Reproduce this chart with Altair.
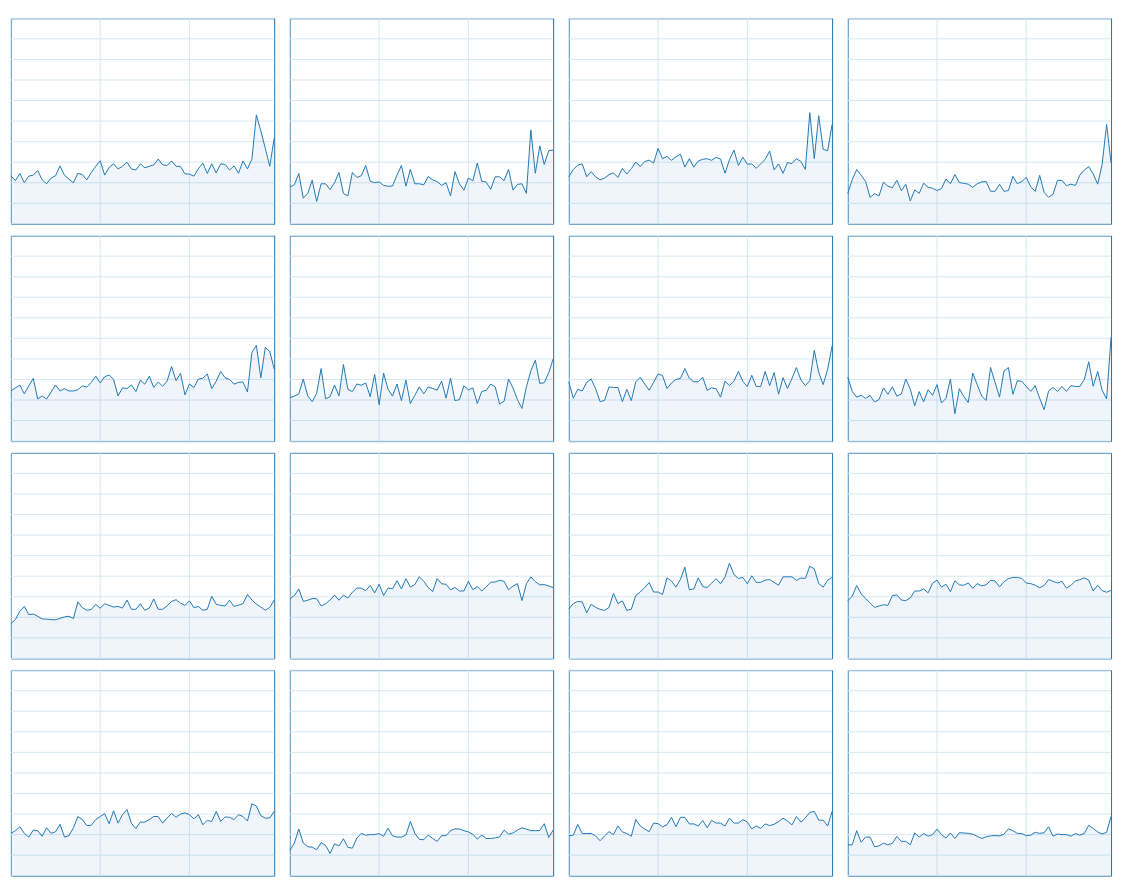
import altair as alt
import pandas as pd

p1 = [2.34,2.10,2.45,2.00,2.32,2.37,2.59,2.14,1.95,2.23,
      2.34,2.82,2.36,2.18,2.00,2.46,2.40,2.14,2.50,2.80,
      3.07,2.37,2.75,2.92,2.67,2.80,3.00,2.67,2.62,2.92,
      2.73,2.80,2.87,3.15,2.87,2.84,3.06,2.80,2.79,2.43,
      2.42,2.32,2.68,2.95,2.45,2.92,2.48,2.92,2.89,2.62,
      2.82,2.46,3.06,2.67,3.15,5.30,4.52,3.67,2.80,4.18]
p2 = [1.79,1.90,2.45,1.25,1.48,2.12,1.09,1.95,1.95,1.67,
      2.00,2.50,1.48,1.36,2.50,2.26,2.34,2.84,2.07,2.00,
      2.04,1.87,1.83,1.84,2.37,2.84,1.83,2.65,1.95,1.95,
      1.90,2.31,2.14,2.06,1.87,2.00,1.36,2.54,1.95,1.64,
      2.23,2.10,2.96,2.07,2.03,1.68,2.29,2.29,2.10,2.65,
      1.64,1.92,1.95,1.48,4.57,2.46,3.79,2.89,3.56,3.59]
p3 = [2.29,2.65,2.85,2.92,2.29,2.54,2.29,2.14,2.23,2.39,
      2.48,2.26,2.70,2.42,2.68,3.01,2.79,3.03,3.10,2.96,
      3.67,3.17,3.28,3.09,3.26,3.39,2.76,3.17,2.76,3.06,
      3.14,3.17,3.09,3.24,3.15,2.46,3.12,3.59,2.84,3.24,
      2.90,2.92,2.70,2.92,3.14,3.54,2.62,2.92,2.46,2.98,
      2.93,3.17,3.04,2.65,5.41,3.17,5.26,3.62,3.56,4.84]
p4 = [1.48,2.15,2.64,2.37,2.06,1.29,1.47,1.36,2.03,1.83,
      1.76,2.12,1.61,1.93,1.11,1.65,1.48,1.98,1.78,1.73,
      1.62,1.72,2.18,1.95,2.40,2.01,1.97,1.93,1.78,1.95,
      2.04,2.06,1.59,1.58,1.93,1.58,1.62,2.31,1.95,2.06,
      2.26,1.81,1.58,2.36,1.53,1.29,1.44,2.12,2.11,1.86,
      1.93,1.87,2.37,2.62,2.78,2.43,1.93,2.89,4.84,2.96]
p5 = [2.45,2.59,2.73,2.30,2.69,3.05,2.05,2.20,2.05,2.39,
      2.73,2.44,2.55,2.44,2.44,2.50,2.69,2.63,2.86,3.16,
      2.83,3.13,3.22,3.00,2.20,2.59,2.56,2.73,2.41,2.97,
      2.77,3.16,2.61,2.88,2.67,2.92,3.63,2.94,3.30,2.25,
      2.78,2.61,3.02,3.06,3.27,2.56,2.92,3.39,3.08,3.00,
      2.77,2.86,2.88,2.39,4.31,4.66,3.08,4.56,4.36,3.50]
p6 = [2.11,2.19,2.30,3.02,2.20,1.92,2.33,3.53,2.06,2.16,
      2.73,2.20,3.73,2.52,2.41,2.78,2.72,2.83,2.16,3.25,
      1.77,3.31,2.52,2.19,2.78,1.97,2.97,1.83,2.23,2.64,
      2.30,2.64,2.56,2.48,2.92,2.09,3.06,1.97,2.02,2.69,
      2.50,2.59,1.83,2.42,2.47,2.78,2.64,1.81,1.94,3.02,
      2.59,2.02,1.59,2.64,3.42,3.94,2.81,2.84,3.33,4.00]
p7 = [2.88,2.09,2.52,2.44,2.86,3.02,2.55,1.92,1.98,2.64,
      2.61,2.61,1.92,2.52,1.97,2.88,3.11,2.78,2.48,2.86,
      3.27,3.19,2.56,2.83,3.00,3.05,3.53,3.06,2.89,2.89,
      3.11,2.47,2.59,2.55,2.14,2.92,2.70,2.92,3.39,2.91,
      2.66,3.20,2.66,2.66,3.39,2.70,3.34,2.28,3.09,2.56,
      3.05,3.58,2.98,2.70,2.94,4.42,3.34,2.75,3.50,4.64]
p8 = [3.11,2.42,2.14,2.23,2.08,2.22,1.91,2.02,2.59,2.28,
      2.64,2.19,2.30,3.02,2.53,1.72,2.41,1.91,2.50,2.23,
      2.75,1.86,2.08,3.02,1.33,2.55,2.17,1.88,3.31,2.75,
      2.20,1.98,3.58,2.86,2.14,3.41,3.58,2.28,2.94,2.91,
      2.66,2.42,2.70,2.09,1.53,2.44,2.61,2.42,2.66,2.42,
      2.70,2.66,2.66,3.00,3.86,2.67,3.39,2.48,2.05,5.06]
p9 = [1.70,1.89,2.30,2.53,2.13,2.16,2.05,1.92,1.91,1.89,
      1.88,1.95,2.02,2.05,1.94,2.75,2.47,2.34,2.38,2.63,
      2.44,2.66,2.58,2.50,2.53,2.45,2.84,2.39,2.39,2.66,
      2.34,2.45,2.89,2.39,2.39,2.56,2.77,2.86,2.69,2.58,
      2.80,2.47,2.53,2.34,2.39,3.02,2.63,2.58,2.55,2.83,
      2.53,2.59,2.67,3.11,2.84,2.64,2.50,2.34,2.48,2.84]
p10 = [2.91,3.06,3.38,2.77,2.83,2.91,2.91,2.55,2.66,2.84,
       3.08,2.83,3.08,2.94,3.22,3.42,3.42,3.30,3.55,3.19,
       3.61,3.06,3.42,3.39,3.78,3.38,3.88,3.47,3.59,3.97,
       3.75,3.45,3.25,3.88,3.63,3.61,3.34,3.45,3.28,3.28,
       3.75,3.34,3.50,3.28,3.48,3.70,3.72,3.80,3.75,3.34,
       3.52,3.64,2.81,3.63,3.97,3.73,3.58,3.59,3.53,3.44]
p11 = [2.41,2.67,2.77,2.75,2.22,2.64,2.48,2.39,2.34,2.48,
       3.16,2.67,2.80,2.34,2.39,3.06,3.23,3.45,3.69,3.23,
       3.23,3.11,3.92,3.77,3.47,3.84,4.44,3.34,3.38,3.92,
       3.50,3.45,3.66,3.88,3.63,3.97,4.63,4.08,3.89,3.94,
       3.63,4.02,3.70,3.70,3.81,3.84,3.70,3.56,3.97,3.97,
       3.97,3.80,3.91,3.89,4.48,4.36,3.64,3.47,3.80,3.95]
p12 = [2.80,3.03,3.55,3.14,2.91,2.70,2.48,2.55,2.61,2.58,
       3.06,3.09,2.84,2.81,2.94,3.28,3.28,3.38,3.19,3.66,
       3.81,3.47,3.61,3.25,3.78,3.58,3.56,3.67,3.41,3.64,
       3.53,3.58,3.80,3.77,3.48,3.73,3.88,3.94,3.94,3.89,
       3.67,3.64,3.56,3.44,3.55,3.84,3.75,3.67,3.75,3.42,
       3.55,3.77,3.83,3.92,3.81,3.28,3.56,3.30,3.22,3.31]
p13 = [2.06,2.19,2.38,2.06,1.88,2.22,2.19,1.92,2.33,2.06,
       2.14,2.50,1.88,1.95,2.33,2.88,2.73,2.44,2.45,2.73,
       2.88,3.02,2.53,3.16,2.56,2.97,3.22,2.55,2.30,2.61,
       2.61,2.73,2.88,2.88,2.56,2.81,3.03,2.84,3.00,3.06,
       2.97,2.77,2.97,2.48,2.69,2.64,3.13,2.64,2.86,2.84,
       2.73,2.97,2.88,2.66,3.50,3.39,2.92,2.80,2.81,3.13]
p14 = [1.23,1.59,2.27,1.59,1.41,1.39,1.27,1.61,1.48,1.08,
       1.55,1.45,1.80,1.38,1.34,1.83,2.06,1.97,2.00,2.00,
       2.05,1.92,2.31,1.94,1.88,1.88,1.98,2.64,2.06,1.77,
       1.75,1.98,1.81,1.67,1.95,1.95,2.19,2.28,2.27,2.19,
       2.13,2.02,1.78,1.98,1.81,1.81,1.84,1.89,2.22,2.02,
       2.08,2.22,2.33,2.27,2.19,2.19,2.20,2.53,1.86,2.22]
p15 = [1.94,1.97,2.50,2.05,2.05,2.05,1.94,1.70,1.94,2.14,
       2.00,2.42,2.13,2.05,1.92,2.73,2.42,2.27,2.14,2.56,
       2.53,2.38,2.48,2.84,2.38,2.84,2.84,2.52,2.52,2.42,
       2.69,2.33,2.69,2.56,2.56,2.42,2.80,2.56,2.56,2.73,
       2.61,2.28,2.42,2.30,2.52,2.44,2.50,2.63,2.80,2.66,
       2.47,2.88,2.61,2.81,3.08,3.13,2.70,2.70,2.42,3.13]
p16 = [1.50,1.50,2.19,1.63,1.88,1.88,1.41,1.45,1.58,1.50,
       1.58,1.91,1.67,1.67,1.50,2.08,1.88,2.05,1.92,2.00,
       2.27,2.00,1.83,2.08,1.81,2.09,2.08,2.06,2.02,1.92,
       1.81,1.89,1.94,1.95,1.94,2.02,2.28,2.19,2.06,2.05,
       1.95,1.97,2.11,2.06,2.09,2.38,1.92,2.03,2.00,2.00,
       1.92,2.05,1.97,2.06,2.45,2.30,2.13,2.03,2.11,2.89]

panels = [p1, p2, p3, p4, p5, p6, p7, p8, p9, p10, p11, p12, p13, p14, p15, p16]
x_ticks = [0, 20, 40]
y_ticks = list(range(0, 11))

BLUE = "#1f77b4"
BORDER = "#1a6fb0"
GRID = "#d7e6f1"

X_SCALE = alt.Scale(domain=[0, 59], nice=False, zero=False)
Y_SCALE = alt.Scale(domain=[0, 10], nice=False)


def panel_chart(series):
    df = pd.DataFrame({"idx": list(range(len(series))), "value": series})
    vgrid = alt.Chart(pd.DataFrame({"t": x_ticks})).mark_rule(
        color=GRID, strokeWidth=1
    ).encode(x=alt.X("t:Q", scale=X_SCALE, axis=None))
    hgrid = alt.Chart(pd.DataFrame({"t": y_ticks})).mark_rule(
        color=GRID, strokeWidth=1
    ).encode(y=alt.Y("t:Q", scale=Y_SCALE, axis=None))
    base = alt.Chart(df).encode(
        x=alt.X("idx:Q", scale=X_SCALE, axis=None),
        y=alt.Y("value:Q", scale=Y_SCALE, axis=None),
    )
    area = base.mark_area(color=BLUE, opacity=0.07)
    line = base.mark_line(color=BLUE, strokeWidth=1)
    return alt.layer(hgrid, vgrid, area, line).properties(width=269, height=210)


rows = []
for r in range(4):
    rows.append(alt.hconcat(*[panel_chart(panels[r * 4 + c]) for c in range(4)], spacing=10))

chart = (
    alt.vconcat(*rows, spacing=10)
    .properties(padding=0)
    .configure_view(stroke=BORDER, strokeWidth=1)
)

chart.save("out.html", embed_options={"renderer": "svg", "actions": False})
